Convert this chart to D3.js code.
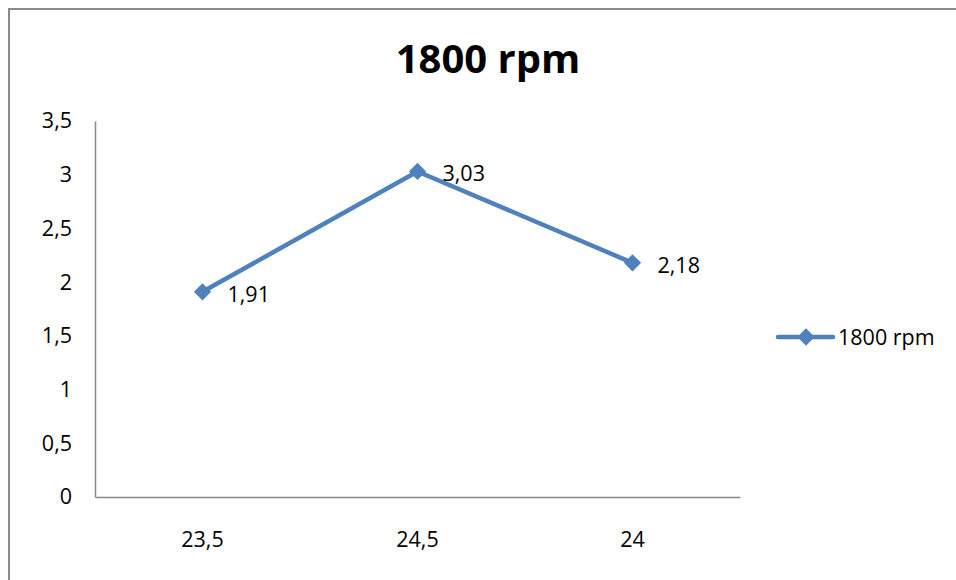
<!DOCTYPE html>
<html>
<head>
<meta charset="utf-8">
<script src="https://cdn.jsdelivr.net/npm/d3@7"></script>
<style>
  html, body { margin: 0; padding: 0; background: #fff; }
  svg { display: block; }
  text { font-family: "Open Sans", "Liberation Sans", sans-serif; fill: #000; }
</style>
</head>
<body>
<svg id="chart" width="956" height="580"></svg>
<script>
// Series data
const categories = ["23,5", "24,5", "24"];
const values = [1.91, 3.03, 2.18];
const yTicks = [0, 0.5, 1, 1.5, 2, 2.5, 3, 3.5];
const seriesName = "1800 rpm";
const chartTitle = "1800 rpm";

const fmt = v => String(v).replace(".", ",");
const lineColor = "#4F81BD";
const axisColor = "#888888";
const labelSize = "21.5px";

const svg = d3.select("#chart");

// Outer chart frame
svg.append("path")
  .attr("d", "M9,580 V9 H956")
  .attr("fill", "none")
  .attr("stroke", "#8a8a8a")
  .attr("stroke-width", 2);

const plot = { left: 95, right: 740, top: 121, bottom: 497 };

const x = d3.scaleBand().domain(categories).range([plot.left, plot.right]);
const y = d3.scaleLinear().domain([0, 3.5]).range([plot.bottom, plot.top]);

// Title
svg.append("text")
  .attr("x", 488).attr("y", 73)
  .attr("text-anchor", "middle")
  .style("font-size", "40px").style("font-weight", "bold")
  .text(chartTitle);

// Y axis
const yAxis = svg.append("g")
  .attr("transform", `translate(${plot.left},0)`)
  .call(d3.axisLeft(y).tickValues(yTicks).tickFormat(fmt).tickSize(0).tickPadding(23));
yAxis.select(".domain").attr("stroke", axisColor).attr("stroke-width", 1.5);
yAxis.selectAll("text").style("font-size", labelSize).attr("fill", "#000");

// X axis
const xAxis = svg.append("g")
  .attr("transform", `translate(0,${plot.bottom})`)
  .call(d3.axisBottom(x).tickSize(0).tickPadding(35));
xAxis.select(".domain").attr("stroke", axisColor).attr("stroke-width", 1.5);
xAxis.selectAll("text").style("font-size", labelSize).attr("fill", "#000");

const cx = c => x(c) + x.bandwidth() / 2;
const pts = categories.map((c, i) => ({ c, v: values[i] }));

// Line
svg.append("path")
  .datum(pts)
  .attr("fill", "none")
  .attr("stroke", lineColor)
  .attr("stroke-width", 4.5)
  .attr("stroke-linejoin", "round")
  .attr("d", d3.line().x(d => cx(d.c)).y(d => y(d.v)));

// Diamond markers
const diamond = d3.symbol().type(d3.symbolDiamond2).size(190);
svg.selectAll(".marker")
  .data(pts)
  .join("path")
  .attr("class", "marker")
  .attr("transform", d => `translate(${cx(d.c)},${y(d.v)})`)
  .attr("d", diamond)
  .attr("fill", lineColor);

// Value labels
svg.selectAll(".val")
  .data(pts)
  .join("text")
  .attr("class", "val")
  .attr("x", d => cx(d.c) + 25)
  .attr("y", d => y(d.v) + 10)
  .style("font-size", labelSize)
  .text(d => fmt(d.v));

// Legend
const lg = svg.append("g").attr("transform", "translate(778,337)");
lg.append("line").attr("x1", 0).attr("x2", 55).attr("y1", 0).attr("y2", 0)
  .attr("stroke", lineColor).attr("stroke-width", 4.5).attr("stroke-linecap", "round");
lg.append("path").attr("transform", "translate(28,0)").attr("d", diamond).attr("fill", lineColor);
lg.append("text").attr("x", 60).attr("y", 8).style("font-size", labelSize).text(seriesName);
</script>
</body>
</html>
